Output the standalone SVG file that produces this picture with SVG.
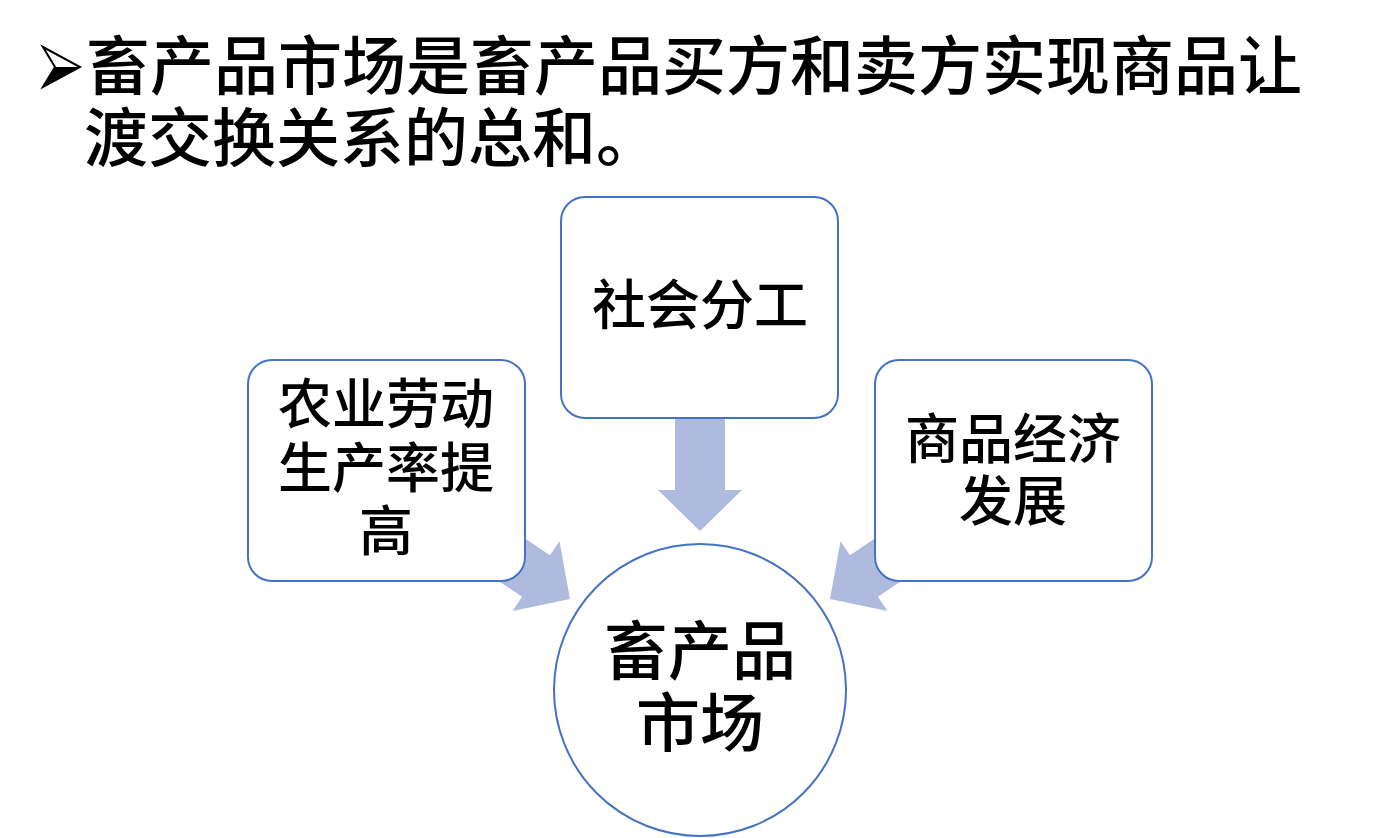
<svg xmlns="http://www.w3.org/2000/svg" width="1378" height="838" viewBox="0 0 1378 838">
<defs>
<style>
.t{font-family:"Noto Sans CJK SC","Noto Sans",sans-serif;fill:#000;font-weight:500;}
.box{fill:#fff;stroke:#4472C4;stroke-width:2;}
.arr{fill:#AEBBDE;}
</style>
<polygon id="arrow" class="arr" points="-25,-113 25,-113 25,-41 42,-41 0,0 -42,-41 -25,-41"/>
</defs>
<rect width="1378" height="838" fill="#fff"/>
<g id="title">
<polygon points="43,47 80,67 43,87 55,67" fill="#fff" stroke="#000" stroke-width="2" stroke-linejoin="miter"/>
<polygon points="55,67 80,67 43,87" fill="#000"/>
<text class="t" x="86" y="89" font-size="64">畜产品市场是畜产品买方和卖方实现商品让</text>
<text class="t" x="84" y="161" font-size="64">渡交换关系的总和。</text>
</g>
<g id="connectors">
<use href="#arrow" transform="translate(700,531)"/>
<use href="#arrow" transform="translate(570,599) rotate(-56)"/>
<use href="#arrow" transform="translate(830,599) rotate(56)"/>
</g>
<g id="node-top">
<rect class="box" x="561" y="197" width="277" height="221" rx="24"/>
<text class="t" x="700" y="325" font-size="54" text-anchor="middle">社会分工</text>
</g>
<g id="node-left">
<rect class="box" x="248" y="360" width="277" height="221" rx="24"/>
<text class="t" x="386" y="424" font-size="54" text-anchor="middle">农业劳动</text>
<text class="t" x="386" y="488" font-size="54" text-anchor="middle">生产率提</text>
<text class="t" x="386" y="551" font-size="54" text-anchor="middle">高</text>
</g>
<g id="node-right">
<rect class="box" x="875" y="360" width="277" height="221" rx="24"/>
<text class="t" x="1013" y="459" font-size="54" text-anchor="middle">商品经济</text>
<text class="t" x="1013" y="521" font-size="54" text-anchor="middle">发展</text>
</g>
<g id="node-center">
<circle class="box" cx="700" cy="690" r="146"/>
<text class="t" x="700" y="674" font-size="64" text-anchor="middle">畜产品</text>
<text class="t" x="700" y="746" font-size="64" text-anchor="middle">市场</text>
</g>
</svg>
